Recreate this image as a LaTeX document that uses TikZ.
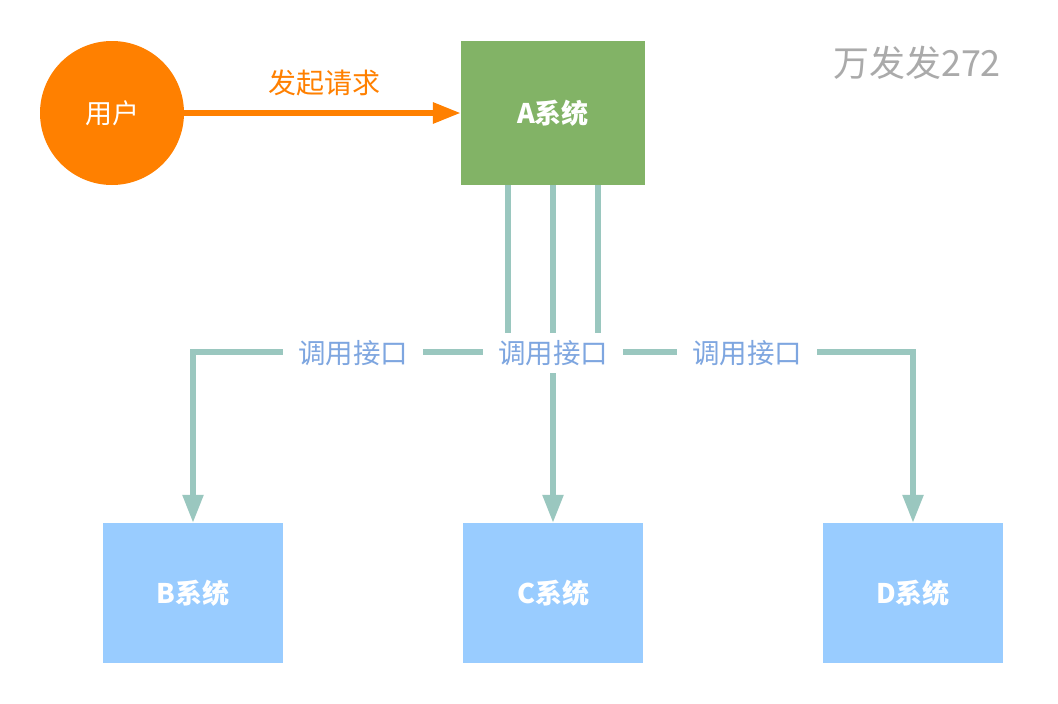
\documentclass[tikz,border=0pt]{standalone}
\usepackage{fontspec}
\usetikzlibrary{arrows.meta}
\newfontfamily\cjk{Noto Sans CJK SC}
\definecolor{uorange}{HTML}{FF8000}
\definecolor{agreen}{HTML}{82B366}
\definecolor{tline}{HTML}{9AC7BF}
\definecolor{bbox}{HTML}{99CCFF}
\definecolor{ltext}{HTML}{7EA6E0}
\definecolor{wmark}{HTML}{AAAAAA}
\begin{document}
\begin{tikzpicture}[x=1pt,y=-1pt,
  sysbox/.style={draw=none,minimum width=184pt,minimum height=144pt,inner sep=0pt,text=white,font=\cjk\bfseries\fontsize{27}{32}\selectfont},
  lowbox/.style={sysbox,fill=bbox,minimum width=180pt,minimum height=140pt},
  tconn/.style={draw=tline,line width=5.5pt},
  tarrow/.style={tconn,-{Triangle[length=28pt,width=20pt]}},
  lbl/.style={fill=white,minimum width=140pt,minimum height=40pt,inner sep=0pt,text=ltext,font=\cjk\fontsize{27.5}{32}\selectfont}]
\useasboundingbox (0,0) rectangle (1058,704);
\fill[white] (0,0) rectangle (1058,704);
\node[circle,fill=uorange,minimum size=144pt,inner sep=0pt,text=white,font=\cjk\fontsize{27}{32}\selectfont] (user) at (112,113) {用户};
\node[sysbox,fill=agreen] (A) at (553,113) {A系统};
\node[lowbox] (B) at (193,593) {B系统};
\node[lowbox] (C) at (553,593) {C系统};
\node[lowbox] (D) at (913,593) {D系统};
\node[text=wmark,font=\cjk\fontsize{36}{42}\selectfont] (wm) at (917,63) {万发发272};
\draw[draw=uorange,line width=6pt,-{Triangle[length=28pt,width=20pt]}] (user.east) -- (A.west);
\node[text=uorange,font=\cjk\fontsize{28}{32}\selectfont] (req) at (324,83) {发起请求};
\coordinate (a1) at (508,185);
\coordinate (a2) at (553,185);
\coordinate (a3) at (598,185);
\coordinate (hL) at (193,352);
\coordinate (hR) at (913,352);
\draw[tarrow] (a1) -- (a1 |- hL) -- (hL) -- (B.north);
\draw[tarrow] (a2) -- (C.north);
\draw[tarrow] (a3) -- (a3 |- hR) -- (hR) -- (D.north);
\node[lbl] (l1) at (353,353) {调用接口};
\node[lbl] (l2) at (553,353) {调用接口};
\node[lbl] (l3) at (747,353) {调用接口};
\end{tikzpicture}
\end{document}
